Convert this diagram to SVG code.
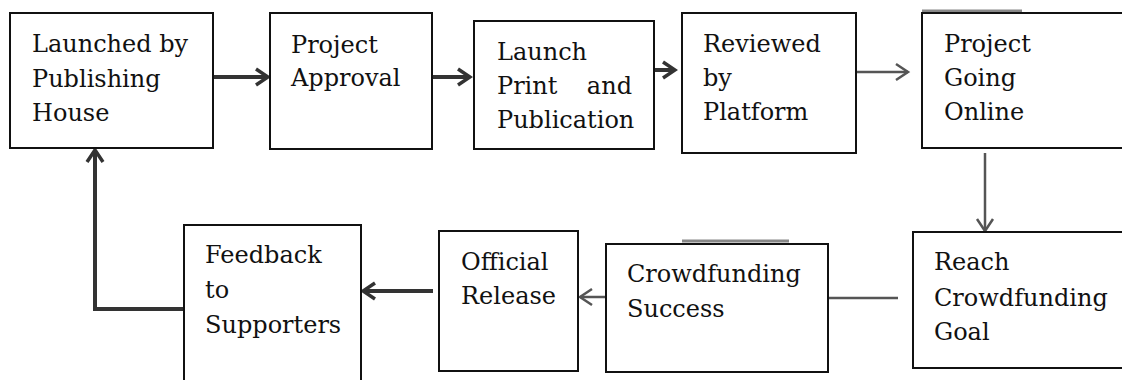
<svg xmlns="http://www.w3.org/2000/svg" width="1122" height="380" viewBox="0 0 1122 380">
<style>
.box{fill:#fff;stroke:#111;stroke-width:2}
.c{fill:none;stroke:#333;stroke-width:4}
.thin{stroke:#555;stroke-width:2.5}
.stub{fill:none;stroke:#888;stroke-width:3}
.t{font-family:'DejaVu Serif',serif;font-size:24px;fill:#111}
</style>
<defs>
<marker id="ah" markerUnits="userSpaceOnUse" markerWidth="16" markerHeight="20" refX="13" refY="9" orient="auto" viewBox="0 0 16 18">
<path d="M1,1 L13,9 L1,17" fill="none" stroke="#333" stroke-width="3.5"/>
</marker>
<marker id="ahg" markerUnits="userSpaceOnUse" markerWidth="16" markerHeight="20" refX="13" refY="9" orient="auto" viewBox="0 0 16 18">
<path d="M1,1 L13,9 L1,17" fill="none" stroke="#555" stroke-width="2.5"/>
</marker>
</defs>
<g id="connectors">
<line class="c" x1="213" y1="77" x2="268" y2="77" marker-end="url(#ah)"/>
<line class="c" x1="432" y1="77" x2="470" y2="77" marker-end="url(#ah)"/>
<line class="c" x1="654" y1="70" x2="675" y2="70" marker-end="url(#ah)"/>
<line class="c thin" x1="856" y1="72" x2="908" y2="72" marker-end="url(#ahg)"/>
<line class="c thin" x1="985" y1="153" x2="985" y2="231" marker-end="url(#ahg)"/>
<line class="c thin" x1="898" y1="298" x2="829" y2="298"/>
<line class="c thin" x1="606" y1="297" x2="580" y2="297" marker-end="url(#ahg)"/>
<line class="c" x1="433" y1="291" x2="363" y2="291" marker-end="url(#ah)"/>
<polyline class="c" points="184,309 95,309 95,150" marker-end="url(#ah)"/>
<line class="stub" x1="922" y1="11" x2="1022" y2="11"/>
<line class="stub" x1="682" y1="241" x2="789" y2="241"/>
</g>
<g id="n1">
<rect class="box" x="10" y="13" width="203" height="135"/>
<text class="t" x="32" y="52">Launched by</text>
<text class="t" x="32" y="87">Publishing</text>
<text class="t" x="32" y="121">House</text>
</g>
<g id="n2">
<rect class="box" x="270" y="13" width="162" height="136"/>
<text class="t" x="291" y="53">Project</text>
<text class="t" x="291" y="86">Approval</text>
</g>
<g id="n3">
<rect class="box" x="474" y="21" width="180" height="128"/>
<text class="t" x="497" y="60">Launch</text>
<text class="t" x="497" y="94">Print</text>
<text class="t" x="632" y="94" text-anchor="end">and</text>
<text class="t" x="497" y="128">Publication</text>
</g>
<g id="n4">
<rect class="box" x="682" y="13" width="174" height="140"/>
<text class="t" x="703" y="52">Reviewed</text>
<text class="t" x="703" y="86">by</text>
<text class="t" x="703" y="120">Platform</text>
</g>
<g id="n5">
<rect class="box" x="922" y="13" width="210" height="135"/>
<text class="t" x="944" y="52">Project</text>
<text class="t" x="944" y="86">Going</text>
<text class="t" x="944" y="120">Online</text>
</g>
<g id="n6">
<rect class="box" x="913" y="232" width="220" height="136"/>
<text class="t" x="934" y="270">Reach</text>
<text class="t" x="934" y="306">Crowdfunding</text>
<text class="t" x="934" y="340">Goal</text>
</g>
<g id="n7">
<rect class="box" x="606" y="244" width="222" height="128"/>
<text class="t" x="627" y="282">Crowdfunding</text>
<text class="t" x="627" y="317">Success</text>
</g>
<g id="n8">
<rect class="box" x="439" y="231" width="139" height="140"/>
<text class="t" x="461" y="270">Official</text>
<text class="t" x="461" y="304">Release</text>
</g>
<g id="n9">
<rect class="box" x="184" y="225" width="177" height="170"/>
<text class="t" x="205" y="263">Feedback</text>
<text class="t" x="205" y="298">to</text>
<text class="t" x="205" y="333">Supporters</text>
</g>
</svg>
